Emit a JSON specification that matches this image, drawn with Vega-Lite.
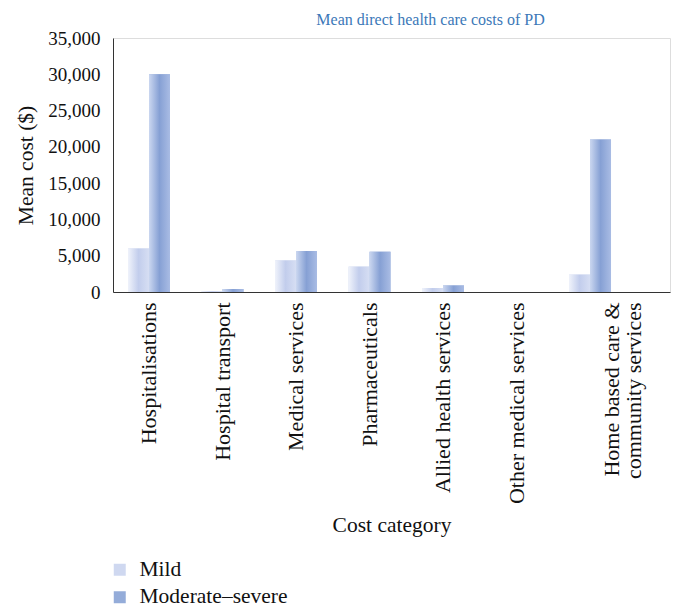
{
  "$schema": "https://vega.github.io/schema/vega-lite/v6.json",
  "autosize": {"type": "none"},
  "width": 557,
  "height": 254,
  "padding": {"left": 113, "top": 38, "right": 7, "bottom": 324},
  "background": "white",
  "title": {
    "text": "Mean direct health care costs of PD",
    "font": "Liberation Serif",
    "fontSize": 16,
    "fontWeight": "normal",
    "color": "#3b78b8",
    "anchor": "middle",
    "dx": 39,
    "offset": 1
  },
  "data": {
    "values": [
      {"category": "Hospitalisations", "severity": "Mild", "cost": 6000},
      {"category": "Hospitalisations", "severity": "Moderate–severe", "cost": 30000},
      {"category": "Hospital transport", "severity": "Mild", "cost": 100},
      {"category": "Hospital transport", "severity": "Moderate–severe", "cost": 400},
      {"category": "Medical services", "severity": "Mild", "cost": 4350},
      {"category": "Medical services", "severity": "Moderate–severe", "cost": 5650},
      {"category": "Pharmaceuticals", "severity": "Mild", "cost": 3500},
      {"category": "Pharmaceuticals", "severity": "Moderate–severe", "cost": 5550},
      {"category": "Allied health services", "severity": "Mild", "cost": 550},
      {"category": "Allied health services", "severity": "Moderate–severe", "cost": 900},
      {"category": "Other medical services", "severity": "Mild", "cost": 0},
      {"category": "Other medical services", "severity": "Moderate–severe", "cost": 0},
      {"category": "Home based care & community services", "severity": "Mild", "cost": 2400},
      {"category": "Home based care & community services", "severity": "Moderate–severe", "cost": 21000}
    ]
  },
  "encoding": {
    "x": {
      "field": "category",
      "type": "nominal",
      "sort": null,
      "scale": {"paddingInner": 0.429, "paddingOuter": 0.5035, "align": 0.203},
      "axis": {
        "title": "Cost category",
        "titleFont": "Liberation Serif",
        "titleFontSize": 21.5,
        "titleFontWeight": "normal",
        "titleColor": "#111",
        "titlePadding": 22,
        "labelFont": "Liberation Serif",
        "labelFontSize": 22,
        "labelColor": "#111",
        "labelAngle": -90,
        "labelPadding": 10,
        "labelLimit": 300,
        "labelLineHeight": 22,
        "ticks": false,
        "domainColor": "#333",
        "labelExpr": "datum.label == 'Home based care & community services' ? ['', 'Home based care &', 'community services'] : datum.label"
      }
    },
    "xOffset": {"field": "severity", "type": "nominal", "scale": {"paddingInner": 0, "paddingOuter": 0}},
    "y": {
      "field": "cost",
      "type": "quantitative",
      "scale": {"domain": [0, 35000]},
      "axis": {
        "title": "Mean cost ($)",
        "titleFont": "Liberation Serif",
        "titleFontSize": 21.5,
        "titleFontWeight": "normal",
        "titleColor": "#111",
        "titlePadding": 10,
        "labelFont": "Liberation Serif",
        "labelFontSize": 19,
        "labelColor": "#111",
        "labelPadding": 13,
        "values": [0, 5000, 10000, 15000, 20000, 25000, 30000, 35000],
        "format": ",.0f",
        "grid": false,
        "ticks": false,
        "domainColor": "#333"
      }
    }
  },
  "layer": [
    {
      "mark": {"type": "bar"},
      "encoding": {
        "color": {
          "field": "severity",
          "type": "nominal",
          "scale": {"domain": ["Mild", "Moderate–severe"], "range": ["#cfd8f0", "#94acd9"]},
          "legend": {
            "title": null,
            "orient": "none",
            "legendX": -4,
            "legendY": 521,
            "direction": "vertical",
            "symbolType": "square",
            "symbolSize": 144,
            "labelFont": "Liberation Serif",
            "labelFontSize": 21.5,
            "labelColor": "#111",
            "rowPadding": 4.5,
            "labelOffset": 9
          }
        }
      }
    },
    {
      "mark": {"type": "bar"},
      "encoding": {
        "fill": {
          "condition": {
            "test": "datum.severity == 'Mild'",
            "value": {
              "gradient": "linear", "x1": 0, "y1": 0, "x2": 1, "y2": 0,
              "stops": [
                {"offset": 0, "color": "#f0f3fb"},
                {"offset": 0.5, "color": "#c2cdec"},
                {"offset": 1, "color": "#d6def3"}
              ]
            }
          },
          "value": {
            "gradient": "linear", "x1": 0, "y1": 0, "x2": 1, "y2": 0,
            "stops": [
              {"offset": 0, "color": "#cbd7f0"},
              {"offset": 0.5, "color": "#86a0d4"},
              {"offset": 1, "color": "#a9bce4"}
            ]
          }
        }
      }
    }
  ]
}
